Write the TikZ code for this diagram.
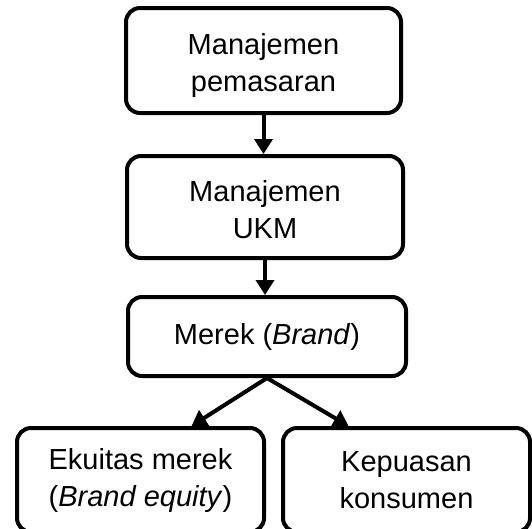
\documentclass[tikz,border=0pt]{standalone}
\usepackage{fontspec}
\setmainfont{Liberation Sans}
\usetikzlibrary{arrows.meta,calc}
\begin{document}
\begin{tikzpicture}[x=1pt,y=1pt,
  box/.style={draw=black,line width=4pt,rounded corners=14pt,inner sep=0pt},
  txt/.style={align=center,font=\fontsize{29}{37}\selectfont,inner sep=0pt},
  conn/.style={line width=4pt,-{Triangle[length=15pt,width=18pt]}}]
\useasboundingbox (0,0) rectangle (532,-528);
\clip (0,0) rectangle (532,-528);
\node[box,minimum width=275pt,minimum height=105pt] (n1) at (263.5,-60.5) {};
\node[box,minimum width=276pt,minimum height=102pt] (n2) at (265,-207) {};
\node[box,minimum width=278pt,minimum height=79pt] (n3) at (267,-336.5) {};
\node[box,minimum width=247pt,minimum height=104pt] (n4) at (140.5,-480) {};
\node[box,minimum width=247pt,minimum height=104pt] (n5) at (406.5,-480) {};
\node[txt] (l1) at ($(n1)+(0,-5)$) {Manajemen\\pemasaran};
\node[txt] (l2) at ($(n2)+(0,-3)$) {Manajemen\\UKM};
\node[txt] (l3) at (n3) {Merek (\textit{Brand})};
\node[txt] (l4) at ($(n4)+(0,0)$) {Ekuitas merek\\(\textit{Brand equity})};
\node[txt] (l5) at ($(n5)+(0,0)$) {Kepuasan\\konsumen};
\coordinate (t4) at ($(n4.north)+(51,0)$);
\coordinate (t5) at ($(n5.north)+(-58,0)$);
\draw[conn] (n1.south) -- (n1.south |- n2.north);
\draw[conn] (n2.south) -- (n2.south |- n3.north);
\draw[conn] (n3.south) -- (t4);
\draw[conn] (n3.south) -- (t5);
\end{tikzpicture}
\end{document}
